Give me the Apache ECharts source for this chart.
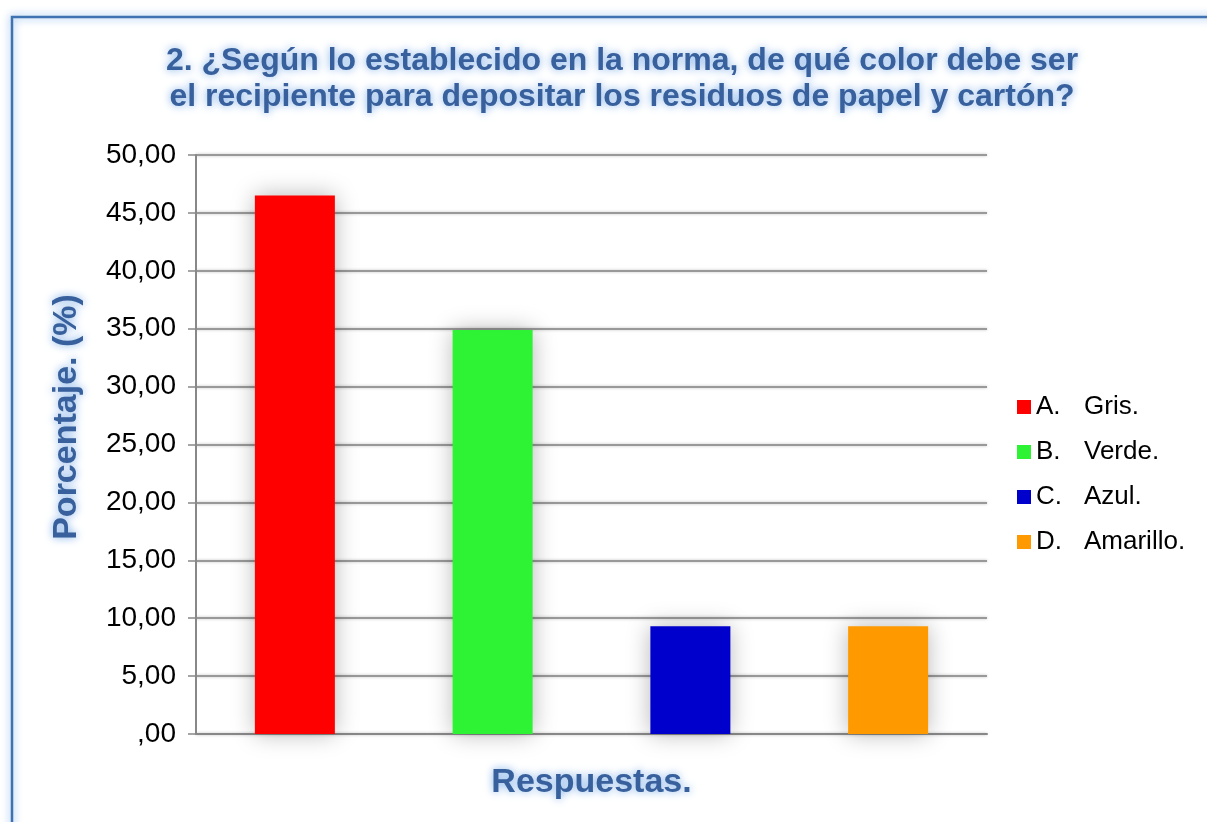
<!DOCTYPE html>
<html>
<head>
<meta charset="utf-8">
<script src="https://cdn.jsdelivr.net/npm/echarts@6/dist/echarts.min.js"></script>
<style>
html,body{margin:0;padding:0;background:#fff;}
#chart{width:1207px;height:822px;}
</style>
</head>
<body>
<div id="chart"></div>
<script>
// Answer options (legend prefix + label), their percentages and colours
const optionKeys = ['A.', 'B.', 'C.', 'D.'];
const optionNames = ['Gris.', 'Verde.', 'Azul.', 'Amarillo.'];
const percentages = [46.51, 34.88, 9.30, 9.30];
const barColors = ['#ff0000', '#2ef234', '#0000cc', '#ff9900'];
const yTicks = { min: 0, max: 50, interval: 5 };

const titleText = '2. ¿Según lo establecido en la norma, de qué color debe ser\nel recipiente para depositar los residuos de papel y cartón?';
const yAxisTitle = 'Porcentaje. (%)';
const xAxisTitle = 'Respuestas.';

const headingColor = '#37609c';
const glowColor = 'rgba(120,170,230,1)';
const font = 'Liberation Sans, Arial, sans-serif';

const seriesNames = optionKeys.map((k, i) => k + '|' + optionNames[i]);

// One series per answer, stacked so each sits alone in its own category slot
const series = percentages.map((v, i) => ({
  name: seriesNames[i],
  type: 'bar',
  stack: 'all',
  barWidth: 80,
  data: percentages.map((_, j) => (j === i ? v : null)),
  itemStyle: {
    color: barColors[i],
    shadowColor: 'rgba(0,0,0,0.28)',
    shadowBlur: 22
  }
}));

const headingStyle = {
  fontFamily: font,
  fontWeight: 'bold',
  fontSize: 34,
  color: headingColor,
  textShadowColor: glowColor,
  textShadowBlur: 9
};

const chart = echarts.init(document.getElementById('chart'));
chart.setOption({
  backgroundColor: '#fff',
  animation: false,
  title: {
    text: titleText,
    left: 617,
    textAlign: 'center',
    top: 38,
    textStyle: Object.assign({}, headingStyle, { fontSize: 32, lineHeight: 36 })
  },
  graphic: [{
    type: 'rect',
    shape: { x: 12, y: 17, width: 1300, height: 900 },
    style: {
      fill: 'none',
      stroke: '#3f72b0',
      lineWidth: 2.5,
      shadowColor: 'rgba(100,160,230,0.9)',
      shadowBlur: 8
    },
    z: 100
  }, {
    // vertical axis title, rotated to read bottom-to-top
    type: 'text',
    x: 67,
    y: 417,
    rotation: Math.PI / 2,
    style: {
      text: yAxisTitle,
      fontFamily: font,
      fontWeight: 'bold',
      fontSize: 34,
      fill: headingColor,
      align: 'center',
      verticalAlign: 'middle',
      textShadowColor: glowColor,
      textShadowBlur: 9
    }
  }],
  legend: {
    orient: 'vertical',
    left: 1012,
    top: 389,
    itemWidth: 14,
    itemHeight: 14,
    itemGap: 19,
    icon: 'rect',
    data: seriesNames,
    formatter: name => {
      const [k, n] = name.split('|');
      return '{k|' + k + '}{n|' + n + '}';
    },
    textStyle: {
      rich: {
        k: { fontFamily: font, fontSize: 26, color: '#000', width: 48 },
        n: { fontFamily: font, fontSize: 26, color: '#000' }
      }
    }
  },
  grid: { left: 196, right: 220, top: 155, bottom: 88 },
  xAxis: {
    type: 'category',
    data: optionNames,
    name: xAxisTitle,
    nameLocation: 'middle',
    nameGap: 32,
    nameTextStyle: headingStyle,
    axisLine: { lineStyle: { color: '#888', width: 2 } },
    axisTick: { show: false },
    axisLabel: { show: false }
  },
  yAxis: {
    type: 'value',
    min: yTicks.min,
    max: yTicks.max,
    interval: yTicks.interval,
    axisLine: { show: true, lineStyle: { color: '#888', width: 2 } },
    axisTick: { show: true, length: 8, lineStyle: { color: '#888', width: 1.5 } },
    axisLabel: {
      fontFamily: font,
      fontSize: 28,
      color: '#000',
      margin: 20,
      formatter: v => (v === 0 ? ',00' : v.toFixed(2).replace('.', ','))
    },
    splitLine: {
      lineStyle: { color: '#999', width: 2, shadowColor: 'rgba(0,0,0,0.25)', shadowBlur: 3 }
    }
  },
  series: series
});
</script>
</body>
</html>
